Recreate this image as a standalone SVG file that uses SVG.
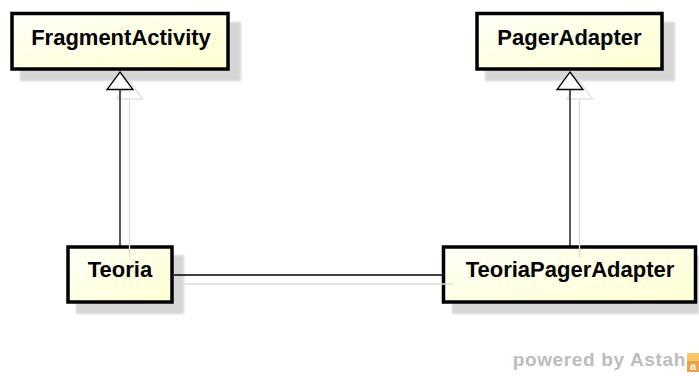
<svg xmlns="http://www.w3.org/2000/svg" width="699" height="376" viewBox="0 0 699 376">
  <defs>
    <linearGradient id="classFill" x1="0" y1="0" x2="1" y2="1">
      <stop offset="0" stop-color="#FFFFF8"/>
      <stop offset="1" stop-color="#FFFFD2"/>
    </linearGradient>
    <filter id="soft" x="-10%" y="-10%" width="120%" height="120%">
      <feGaussianBlur stdDeviation="0.8"/>
    </filter>
  </defs>
  <style>
    .shadow { fill: #d6d6d6; filter: url(#soft); }
    .box { fill: url(#classFill); stroke: #000; stroke-width: 3.5; }
    .name { font-family: "Liberation Sans", Arial, sans-serif; font-weight: bold; font-size: 22px; fill: #000; text-anchor: middle; }
    .edge { fill: none; stroke: #000; stroke-width: 1.3; }
    .edge-shadow { fill: none; stroke: #dcdcdc; stroke-width: 1.3; }
    .head { fill: #fff; stroke: #000; stroke-width: 1.3; }
    .head-shadow { fill: none; stroke: #e2e2e2; stroke-width: 1.3; }
    .brand { font-family: "Liberation Sans", Arial, sans-serif; font-weight: bold; font-size: 19px; letter-spacing: 0.65px; fill: #bcbcbc; }
  </style>

  <!-- drop shadows of the classes -->
  <g id="shadows">
    <rect class="shadow" x="20" y="22" width="221" height="59"/>
    <rect class="shadow" x="485" y="22" width="190" height="59"/>
    <rect class="shadow" x="76" y="255" width="108" height="59"/>
    <rect class="shadow" x="452" y="255" width="247" height="59"/>
  </g>

  <!-- classes -->
  <g id="FragmentActivity">
    <rect class="box" x="12" y="13.5" width="216" height="55.5"/>
    <text class="name" x="121" y="45">FragmentActivity</text>
  </g>
  <g id="PagerAdapter">
    <rect class="box" x="477" y="13.5" width="185" height="55.5"/>
    <text class="name" x="569.5" y="45">PagerAdapter</text>
  </g>
  <g id="Teoria">
    <rect class="box" x="68" y="247" width="104" height="55"/>
    <text class="name" x="120" y="277">Teoria</text>
  </g>
  <g id="TeoriaPagerAdapter">
    <rect class="box" x="443.5" y="247" width="252" height="55"/>
    <text class="name" x="570" y="277">TeoriaPagerAdapter</text>
  </g>

  <!-- generalizations and association -->
  <g id="connectors">
    <!-- shadows -->
    <line class="edge-shadow" x1="129.5" y1="99" x2="129.5" y2="257"/>
    <polygon class="head-shadow" points="129.5,81 142.5,99 116.5,99"/>
    <line class="edge-shadow" x1="579.5" y1="99" x2="579.5" y2="257"/>
    <polygon class="head-shadow" points="579.5,81 592.5,99 566.5,99"/>
    <line class="edge-shadow" x1="184" y1="284" x2="453" y2="284"/>

    <!-- Teoria extends FragmentActivity -->
    <line class="edge" x1="120" y1="89.5" x2="120" y2="247"/>
    <polygon class="head" points="120,72 133,89.5 107,89.5"/>
    <!-- TeoriaPagerAdapter extends PagerAdapter -->
    <line class="edge" x1="570" y1="89.5" x2="570" y2="247"/>
    <polygon class="head" points="570,72 583,89.5 557,89.5"/>
    <!-- association -->
    <line class="edge" x1="174" y1="275" x2="442" y2="275"/>
  </g>

  <!-- tool badge -->
  <g id="badge">
    <text class="brand" x="686" y="366" text-anchor="end">powered by Astah</text>
    <rect x="687" y="353" width="12" height="8" fill="#f7c468"/>
    <rect x="687" y="361" width="12" height="11" fill="#f0a040"/>
    <text x="693" y="370" font-family="Liberation Sans, Arial, sans-serif" font-weight="bold" font-size="11" fill="#fff" text-anchor="middle">a</text>
  </g>
</svg>
